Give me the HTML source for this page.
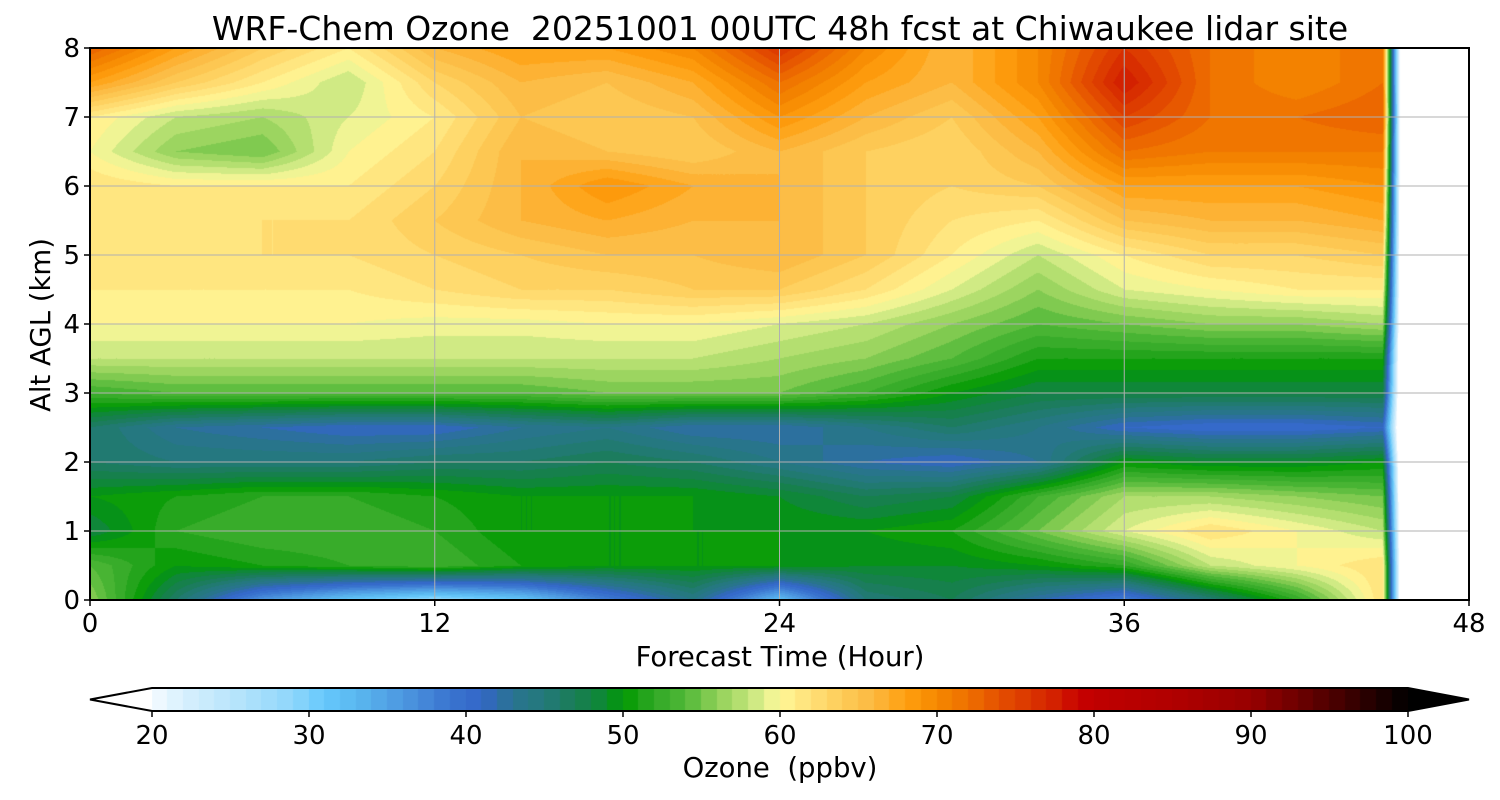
<!DOCTYPE html>
<html><head><meta charset="utf-8"><style>
html,body{margin:0;padding:0;background:#fff;}
#wrap{position:relative;width:1500px;height:800px;font-family:"DejaVu Sans",sans-serif;}
canvas{position:absolute;left:0;top:0;}
svg{position:absolute;left:0;top:0;}
text{font-family:"DejaVu Sans","Liberation Sans",sans-serif;fill:#000;white-space:pre;}
</style></head><body>
<div id="wrap">
<canvas id="cv" width="1500" height="800"></canvas>
<svg id="sv" width="1500" height="800"></svg>
</div>
<script>
// ---- data ----
const times = [0,3,6,9,12,15,18,21,24,27,30,33,36,39,42,45];
const alts = [8,7.5,7,6.5,6,5.5,5,4.5,4,3.5,3,2.5,2,1.5,1,0.5,0];
const row80 = [73,68,64,61,66,68,68,70,76,70,66,70,76,72,70,72];
const row75 = [68,64,61,58,63,66,65,67,72,68,66,70,78,72,70,72];
const row70 = [61,58,57,59,61,65,64,65,69,66,64,68,75,72,72,73];
const row65 = [60,56,55,60,62,66,65,64,66,64,63,66,72,71,71,71];
const row60 = [62,61,61,61,63,66,69,67,66,64,63,64,68,68,68,69];
const row55 = [62,61,62,62,64,66,67,66,66,64,62,61,65,66,66,67];
const row50 = [62,62,62,62,63,64,65,65,66,64,61,58,61,63,63,64];
const row45 = [61,61,61,61,62,63,63,64,64,62,59,56,59,60,61,61];
const row40 = [60,60,60,60,59.5,59.5,60,60,59,58,56,54,55,56,56,57];
const row35 = [58,58,58,58,58,58,58,58,57,56,54,51,51,51,51,51];
const row30 = [53,54,54,54,54,54,55,55,55,53,50,48,48,48,48,48];
const row25 = [46,43,42,41,41,43,44,42,42,44,46,44,41,40,40,41];
const row20 = [46,45,45,45,46,46,47,46,44,42,41,43,50,49,49,50];
const row15 = [50,51,52,52,51,50,50,50,49,47,48,53,57,57,56,55];
const row10 = [48,52,53,53,52,50,50,50,50,50,51,55,59,62,60,58];
const row05 = [54,50,51,52,53,51,50,50,50,49,49,50,52,58,60,62];
const row00 = [56,46,36,31,28,31,38,44,32,45,47,42,38,45,52,62];
const rows = [row80,row75,row70,row65,row60,row55,row50,row45,row40,row35,row30,row25,row20,row15,row10,row05,row00];
const endTime = 45.7, endValue = 10;
const cbTicks = [20,30,40,50,60,70,80,90,100];
const xTicks = [0,12,24,36,48];
const yTicks = [0,1,2,3,4,5,6,7,8];

// ---- scales ----
const PX0=90,PX1=1469,PY0=48,PY1=600;
const xs = t => PX0 + (t/48)*(PX1-PX0);
const ys = z => PY1 - (z/8)*(PY1-PY0);
const CB0=152,CB1=1408,CBY=688,CBH=23;
const cbx = v => CB0 + (v-20)/80*(CB1-CB0);

const stops=[[20,'#f5faff'],[22,'#d8f0fd'],[26,'#b0e2fb'],[29,'#8ed6fb'],[31,'#66c8fc'],[33,'#5ab8f0'],[36,'#4d98e0'],[39,'#3a74cf'],[41,'#3366c8'],[43,'#2a7390'],[45,'#23797a'],[47,'#1a7d55'],[49,'#0b8a30'],[50,'#009900'],[52,'#30a825'],[54,'#50b838'],[56,'#90d058'],[58,'#c0e478'],[59,'#e0f090'],[60,'#fff898'],[62,'#ffe078'],[64,'#fdcc58'],[66,'#fcb840'],[68,'#ffa010'],[70,'#f58800'],[72,'#ee7000'],[74,'#e55000'],[76,'#da3500'],[78,'#d01a00'],[79,'#c80000'],[80,'#c00000'],[85,'#b00000'],[90,'#980000'],[95,'#500000'],[98,'#200000'],[100,'#000000']];
const hx=h=>[parseInt(h.substr(1,2),16),parseInt(h.substr(3,2),16),parseInt(h.substr(5,2),16)];
function cmap(v){
  if(v<20) return [255,255,255];
  if(v>=100) return [0,0,0];
  for(let i=0;i<stops.length-1;i++){
    if(v>=stops[i][0]&&v<=stops[i+1][0]){
      const a=hx(stops[i][1]),b=hx(stops[i+1][1]);const f=(v-stops[i][0])/(stops[i+1][0]-stops[i][0]);
      return [0,1,2].map(k=>Math.round(a[k]+(b[k]-a[k])*f));
    }
  }
  return [0,0,0];
}
// ---- field ----
const T=[...times,endTime];
function val(t,z){
  let i=0; while(i<T.length-2 && t>T[i+1]) i++;
  const fx=Math.max(0,Math.min(1,(t-T[i])/(T[i+1]-T[i])));
  const zz=8-z; let j=Math.min(alts.length-2,Math.floor(zz/0.5)); const fy=(zz-j*0.5)/0.5;
  const g=(r,c)=> c>=times.length? endValue : rows[r][c];
  const a=g(j,i)*(1-fx)+g(j,i+1)*fx, b=g(j+1,i)*(1-fx)+g(j+1,i+1)*fx;
  return a*(1-fy)+b*fy;
}
const cv=document.getElementById('cv');const ctx=cv.getContext('2d');
const W=PX1-PX0,H=PY1-PY0;const img=ctx.createImageData(W,H);
for(let py=0;py<H;py++){const z=8-(py+0.5)/H*8;
  for(let px=0;px<W;px++){const t=(px+0.5)/W*48;
    let c;
    if(t>endTime) c=[255,255,255];
    else {const v=val(t,z);c=cmap(Math.floor(v)+0.5);}
    const o=(py*W+px)*4;img.data[o]=c[0];img.data[o+1]=c[1];img.data[o+2]=c[2];img.data[o+3]=255;}}
ctx.putImageData(img,PX0,PY0);
for(let v=20;v<100;v++){const c=cmap(v+0.5);ctx.fillStyle=`rgb(${c[0]},${c[1]},${c[2]})`;ctx.fillRect(Math.floor(cbx(v)),CBY,Math.ceil(cbx(v+1)-cbx(v))+1,CBH);}

// ---- overlay ----
const NS='http://www.w3.org/2000/svg';const sv=document.getElementById('sv');
function mk(tag,attrs,txt){const e=document.createElementNS(NS,tag);for(const k in attrs)e.setAttribute(k,attrs[k]);if(txt!==undefined)e.textContent=txt;sv.appendChild(e);return e;}
xTicks.forEach(t=>{
  if(t>0&&t<48){const l=mk('line',{x1:xs(t),x2:xs(t),y1:PY0,y2:PY1,stroke:'#b0b0b0','stroke-width':1});
    
    }
  const tk=mk('line',{x1:xs(t),x2:xs(t),y1:PY1,y2:PY1+6,stroke:'#000','stroke-width':1.5});
  
  
  const tx=mk('text',{x:xs(t),y:632,'text-anchor':'middle','font-size':26},String(t));
  
  
});
yTicks.forEach(z=>{
  if(z>0&&z<8){const l=mk('line',{x1:PX0,x2:PX1,y1:ys(z),y2:ys(z),stroke:'#b0b0b0','stroke-width':1});
    
    }
  const tk=mk('line',{x1:PX0-6,x2:PX0,y1:ys(z),y2:ys(z),stroke:'#000','stroke-width':1.5});
  
  
  const tx=mk('text',{x:80,y:ys(z)+9,'text-anchor':'end','font-size':26},String(z));
  
  
});
const fr=mk('rect',{x:PX0,y:PY0,width:PX1-PX0,height:PY1-PY0,fill:'none',stroke:'#000','stroke-width':2});


const ti=mk('text',{x:780,y:40,'text-anchor':'middle','font-size':33},'WRF-Chem Ozone  20251001 00UTC 48h fcst at Chiwaukee lidar site');


const xl=mk('text',{x:780,y:666,'text-anchor':'middle','font-size':27.5},'Forecast Time (Hour)');


const yl=mk('text',{x:50,y:325,'text-anchor':'middle','font-size':27.5,transform:'rotate(-90 50 325)'},'Alt AGL (km)');


const lt=mk('polygon',{points:`${CB0},${CBY} ${PX0},${CBY+CBH/2} ${CB0},${CBY+CBH}`,fill:'#fff',stroke:'none'});


const rt=mk('polygon',{points:`${CB1},${CBY} ${PX1},${CBY+CBH/2} ${CB1},${CBY+CBH}`,fill:'#000',stroke:'none'});


const cbo=mk('polygon',{points:`${CB0},${CBY} ${CB1},${CBY} ${PX1},${CBY+CBH/2} ${CB1},${CBY+CBH} ${CB0},${CBY+CBH} ${PX0},${CBY+CBH/2}`,fill:'none',stroke:'#000','stroke-width':2});


cbTicks.forEach(v=>{
  const tk=mk('line',{x1:cbx(v),x2:cbx(v),y1:CBY+CBH,y2:CBY+CBH+6,stroke:'#000','stroke-width':1.5});
  
  
  const tx=mk('text',{x:cbx(v),y:744,'text-anchor':'middle','font-size':26},String(v));
  
  
});
const cl=mk('text',{x:780,y:777,'text-anchor':'middle','font-size':27.5},'Ozone  (ppbv)');


</script>
</body></html>
